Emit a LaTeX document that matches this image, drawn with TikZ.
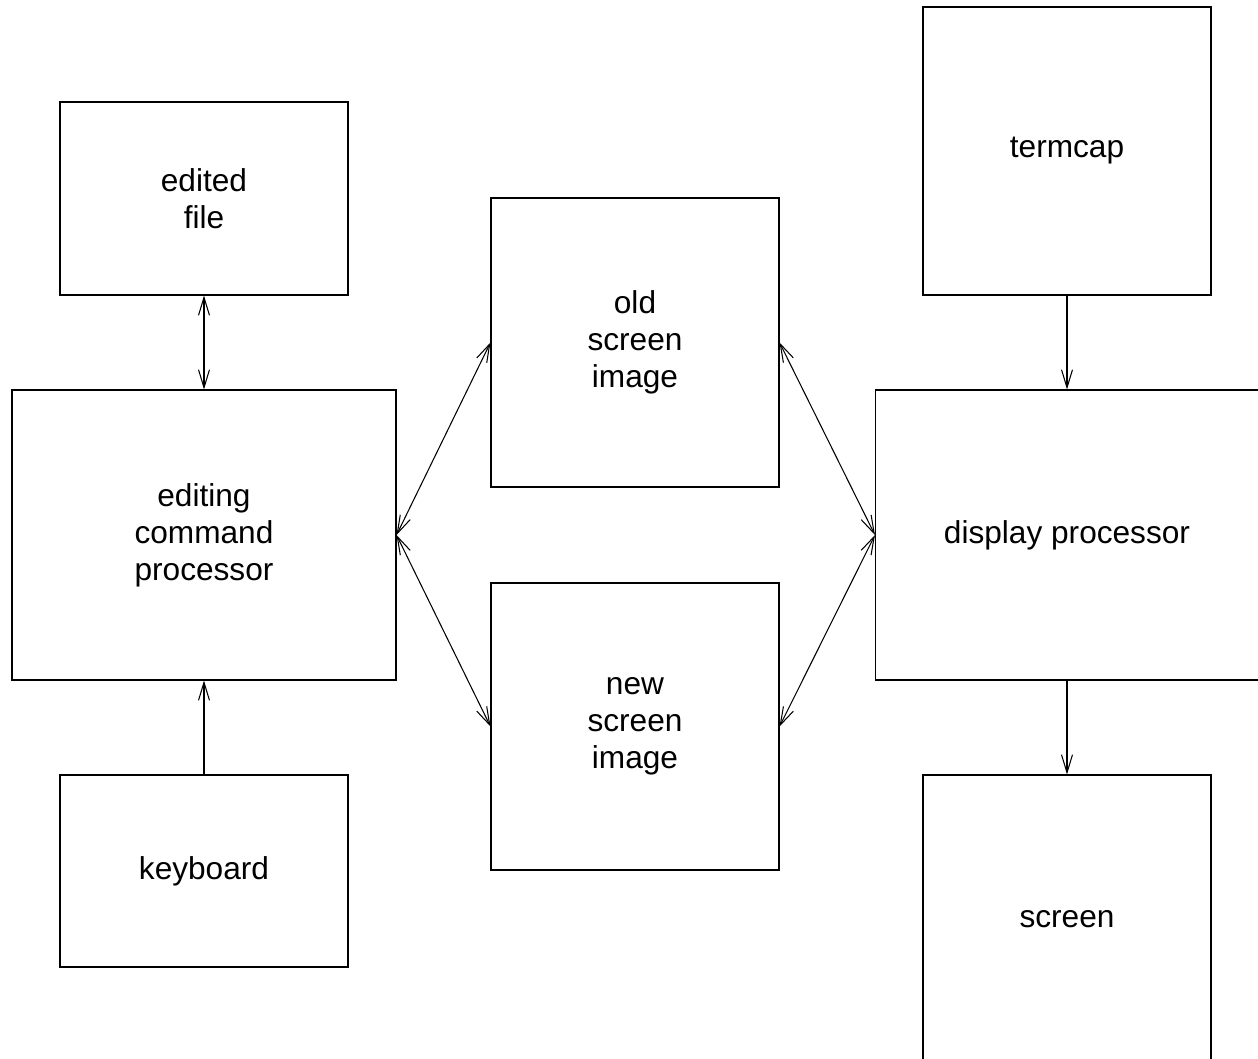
\documentclass[tikz,border=0pt]{standalone}
\usepackage{fontspec}
\setmainfont{Liberation Sans}
\usetikzlibrary{arrows.meta}
\tikzset{
  blk/.style={draw, line width=0.6pt, align=center, inner sep=0pt,
    font=\fontsize{18}{21}\selectfont},
  lnk/.style={line width=0.6pt, {Straight Barb[length=3.6mm,width=2.2mm]}-{Straight Barb[length=3.6mm,width=2.2mm]}},
  flow/.style={line width=0.6pt, -{Straight Barb[length=3.6mm,width=2.2mm]}}
}
\begin{document}
\begin{tikzpicture}
\useasboundingbox (0,0) rectangle (25.16,-21.18);
\clip (0,0) rectangle (25.16,-21.18);
% left column
\node[blk, minimum width=5.76cm, minimum height=3.86cm] (file) at (4.08,-3.97) {edited\\file};
\node[blk, minimum width=7.68cm, minimum height=5.8cm] (ecp) at (4.08,-10.7) {editing\\command\\processor};
\node[blk, minimum width=5.76cm, minimum height=3.84cm] (kbd) at (4.08,-17.42) {keyboard};
% middle column
\node[blk, minimum width=5.76cm, minimum height=5.78cm] (old) at (12.7,-6.85) {old\\screen\\image};
\node[blk, minimum width=5.76cm, minimum height=5.74cm] (new) at (12.7,-14.53) {new\\screen\\image};
% right column
\node[blk, minimum width=5.76cm, minimum height=5.76cm] (tcap) at (21.34,-3.02) {termcap};
\node[blk, minimum width=7.66cm, minimum height=5.8cm] (disp) at (21.34,-10.7) {display processor};
\node[blk, minimum width=5.76cm, minimum height=5.76cm] (scr) at (21.34,-18.38) {screen};
% connections
\draw[lnk] (file.south) -- (ecp.north);
\draw[flow] (kbd.north) -- (ecp.south);
\draw[lnk] (ecp.east) -- (old.west);
\draw[lnk] (ecp.east) -- (new.west);
\draw[lnk] (old.east) -- (disp.west);
\draw[lnk] (new.east) -- (disp.west);
\draw[flow] (tcap.south) -- (disp.north);
\draw[flow] (disp.south) -- (scr.north);
\end{tikzpicture}
\end{document}
